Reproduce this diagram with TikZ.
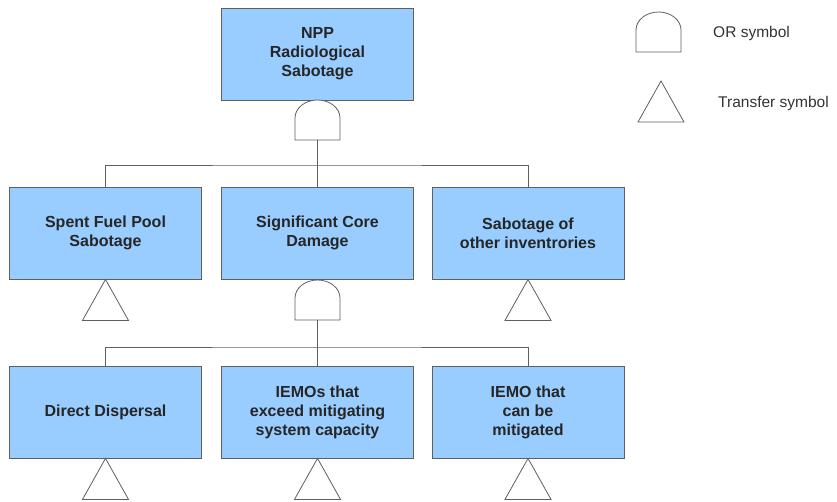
\documentclass[tikz,border=0pt]{standalone}
\usepackage{fontspec}
\setmainfont{Liberation Sans}
\usepackage{tikz}
\usetikzlibrary{calc}
\usetikzlibrary{positioning}
\definecolor{boxblue}{RGB}{153,204,255}
\definecolor{linegray}{RGB}{95,95,95}
\tikzset{>=latex}
\tikzstyle{event} = [rectangle, draw=linegray, fill=boxblue, line width=0.8pt, minimum width=192pt, minimum height=92pt, align=center, text=black!85, font=\fontsize{16}{19}\selectfont\bfseries]
\tikzstyle{wire} = [-, draw=linegray, line width=0.8pt]
\tikzstyle{legend} = [anchor=west, inner sep=0pt, text=black!80, font=\fontsize{15.5}{18}\selectfont]
\newcommand{\orgate}[1]{\draw [wire, fill=white] (#1) ++(-22.5,0) -- ++(0,22) arc[start angle=180, end angle=0, x radius=22.5, y radius=18] -- ++(0,-22) -- cycle;}
\newcommand{\transfer}[1]{\draw [wire, fill=white] (#1) -- ++(-23,-41) -- ++(46,0) -- cycle;}

\begin{document}
\begin{tikzpicture}[x=1pt, y=1pt]
\useasboundingbox (0,0) rectangle (837,-502);
\node [event] (npp) at (317.5, -54) {NPP\\Radiological\\Sabotage};
\node [event] (sfp) at (105.5, -233) {Spent Fuel Pool\\Sabotage};
\node [event] (scd) at (317.5, -233) {Significant Core\\Damage};
\node [event] (oth) at (528, -233) {Sabotage of\\other inventrories};
\node [event] (dd) at (105.5, -412) {Direct Dispersal};
\node [event] (iemo) at (317.5, -412) {IEMOs that\\exceed mitigating\\system capacity};
\node [event] (mit) at (528, -412) {IEMO that\\can be\\mitigated};
% gates and busses
\coordinate (g1) at (317.5, -140);
\coordinate (j1) at (317.5, -165);
\coordinate (g2) at (317.5, -320);
\coordinate (j2) at (317.5, -347);
\orgate{g1}
\orgate{g2}
\draw [wire] (g1) -- (j1);
\draw [wire] (sfp.north) |- (j1) -| (oth.north);
\draw [wire] (j1) -- (scd.north);
\draw [wire] (g2) -- (j2);
\draw [wire] (dd.north) |- (j2) -| (mit.north);
\draw [wire] (j2) -- (iemo.north);
% transfer symbols
\transfer{sfp.south}
\transfer{oth.south}
\transfer{dd.south}
\transfer{iemo.south}
\transfer{mit.south}
% legend
\coordinate (lgate) at (658.5, -52);
\coordinate (ltri) at (661, -81);
\orgate{lgate}
\transfer{ltri}
\node [legend] (orlbl) at (713, -33) {OR symbol};
\node [legend] (trlbl) at (718, -103) {Transfer symbol};
\end{tikzpicture}
\end{document}
